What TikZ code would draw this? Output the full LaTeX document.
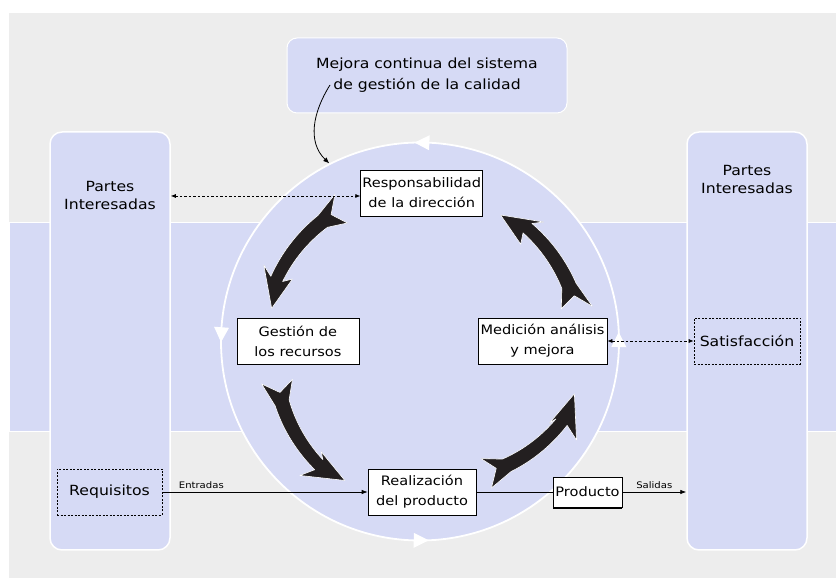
\documentclass[tikz,border=0pt]{standalone}
\usepackage{fontspec}
\setmainfont{DejaVu Sans}[FakeStretch=1.12]
\usetikzlibrary{arrows.meta,calc}
\definecolor{lav}{RGB}{214,218,245}
\definecolor{bggray}{RGB}{237,237,237}
\definecolor{ink}{RGB}{35,31,32}
\newcommand\blkarrow[4]{%
 \pgfmathsetmacro\bta{#1}%
 \pgfmathsetmacro\btb{#2}%
 \pgfmathsetmacro\bra{#3}%
 \pgfmathsetmacro\brb{#4}%
 \pgfmathsetmacro\bts{\bta+9}%
 \pgfmathsetmacro\bte{\btb-11}%
 \pgfmathsetmacro\btw{\btb-13.5}%
 \pgfmathsetmacro\btn{\bta+5}%
 \pgfmathsetmacro\bti{\bta+1.5}%
 \path[blkarr] ({\bta}:{\bra+16})
   -- plot[domain=\bts:\bte, samples=24, variable=\t] ({\t}:{\bra+(\brb+5-\bra)*(\t-\bta)/(\btb-\bta)+8-2*(\t-\bta)/(\btb-\bta)})
   -- ({\btw}:{\brb+22}) -- ({\btb}:{\brb}) -- ({\btw}:{\brb-10})
   -- plot[domain=\bte:\bts, samples=24, variable=\t] ({\t}:{\bra+(\brb+5-\bra)*(\t-\bta)/(\btb-\bta)-8+2*(\t-\bta)/(\btb-\bta)})
   -- ({\bti}:{\bra-15}) -- ({\btn}:{\bra+1}) -- cycle;
}
\begin{document}
\begin{tikzpicture}[x=1pt,y=1pt,
  col/.style={draw=white, line width=1.5pt, fill=lav, rounded corners=12pt, inner sep=0pt, minimum width=120pt, minimum height=418pt},
  procbox/.style={draw=black, fill=white, line width=0.7pt, inner sep=0pt, align=center, minimum height=46pt, font=\fontsize{13}{20}\selectfont},
  dashbox/.style={draw=black, dash pattern=on 2pt off 1.5pt, line width=0.6pt, inner sep=0pt, align=center, minimum height=46pt, font=\fontsize{14}{18}\selectfont},
  dotarrow/.style={dash pattern=on 2.5pt off 2pt, line width=0.7pt, {Latex[length=5pt,width=4pt]}-{Latex[length=5pt,width=4pt]}},
  flow/.style={line width=0.7pt, -{Latex[length=6pt,width=4.5pt]}},
  lbl/.style={font=\fontsize{9}{10}\selectfont, inner sep=3pt},
  ptext/.style={align=center, font=\fontsize{14}{18}\selectfont, inner sep=0pt},
  blkarr/.style={fill=ink, draw=white, line width=0.6pt, line join=round}]
\useasboundingbox (0,0) rectangle (836,578);
\fill[white] (0,0) rectangle (836,578);
\fill[bggray] (9,0) rectangle (836,565);
% band
\path[fill=lav, draw=white, line width=1pt] (9,146) rectangle (837,355);
% columns
\node[col] (lcol) at (110,237) {};
\node[col] (rcol) at (747,237) {};
\node[ptext] (lpt) at (110,382) {Partes\\Interesadas};
\node[ptext] (rpt) at (747,398) {Partes\\Interesadas};
% top box
\node[draw=white, line width=1pt, fill=lav, rounded corners=10pt, minimum width=280pt, minimum height=75pt, inner sep=0pt, align=center, font=\fontsize{14}{21}\selectfont] (top) at (427,502.5) {Mejora continua del sistema\\de gestión de la calidad};
% cycle circle
\node[circle, fill=lav, draw=white, line width=1.8pt, minimum size=398pt, inner sep=0pt] (cyc) at (420,236.5) {};
\begin{scope}[shift={(cyc.center)}]
  \foreach \p in {89.4,178,270.3,0.5}{
    \fill[white] ({\p+2.2}:199) -- ({\p-2.1}:206.5) -- ({\p-2.1}:191.5) -- cycle;
  }
  \blkarrow{120}{167.4}{154}{152}
  \blkarrow{195}{241.6}{148}{158}
  \blkarrow{296}{341.3}{147}{163}
  \blkarrow{11.5}{57.5}{160}{150}
\end{scope}
% process boxes
\node[procbox, minimum width=122pt] (resp) at (421.7,385) {Responsabilidad\\de la dirección};
\node[procbox, minimum width=122pt] (gest) at (297.9,237) {Gestión de\\los recursos};
\node[procbox, minimum width=129pt] (med) at (542.5,237) {Medición análisis\\y mejora};
\node[procbox, minimum width=108pt] (real) at (422,86) {Realización\\del producto};
\node[dashbox, minimum width=105pt] (req) at (109.5,86) {Requisitos};
\node[dashbox, minimum width=106pt] (sat) at (747,237) {Satisfacción};
\node[draw=black, fill=white, line width=0.6pt, inner sep=0pt, minimum width=69pt, minimum height=30pt, font=\fontsize{13}{16}\selectfont] (prod) at (587.5,86) {Producto};
\draw[line width=1.6pt] ([xshift=0.5pt,yshift=-0.8pt]prod.south west) -- ([yshift=-0.8pt]prod.south east);
% connectors
\draw[dotarrow] (lcol.east |- 0,382) -- (resp.west |- 0,382);
\draw[dotarrow] (med.east) -- (sat.west);
\draw[flow] (req.east) -- node[lbl, pos=0.19, above] {Entradas} (real.west);
\draw[line width=0.7pt] (real.east) -- (prod.west);
\draw[flow] (prod.east) -- node[lbl, midway, above] {Salidas} (rcol.west |- prod.east);
\coordinate (cstart) at (330,493);
\draw[line width=0.8pt, -{Latex[length=6pt,width=5pt]}] (cstart) .. controls (313,466) and (307,436) .. (cyc.117);
\end{tikzpicture}
\end{document}
